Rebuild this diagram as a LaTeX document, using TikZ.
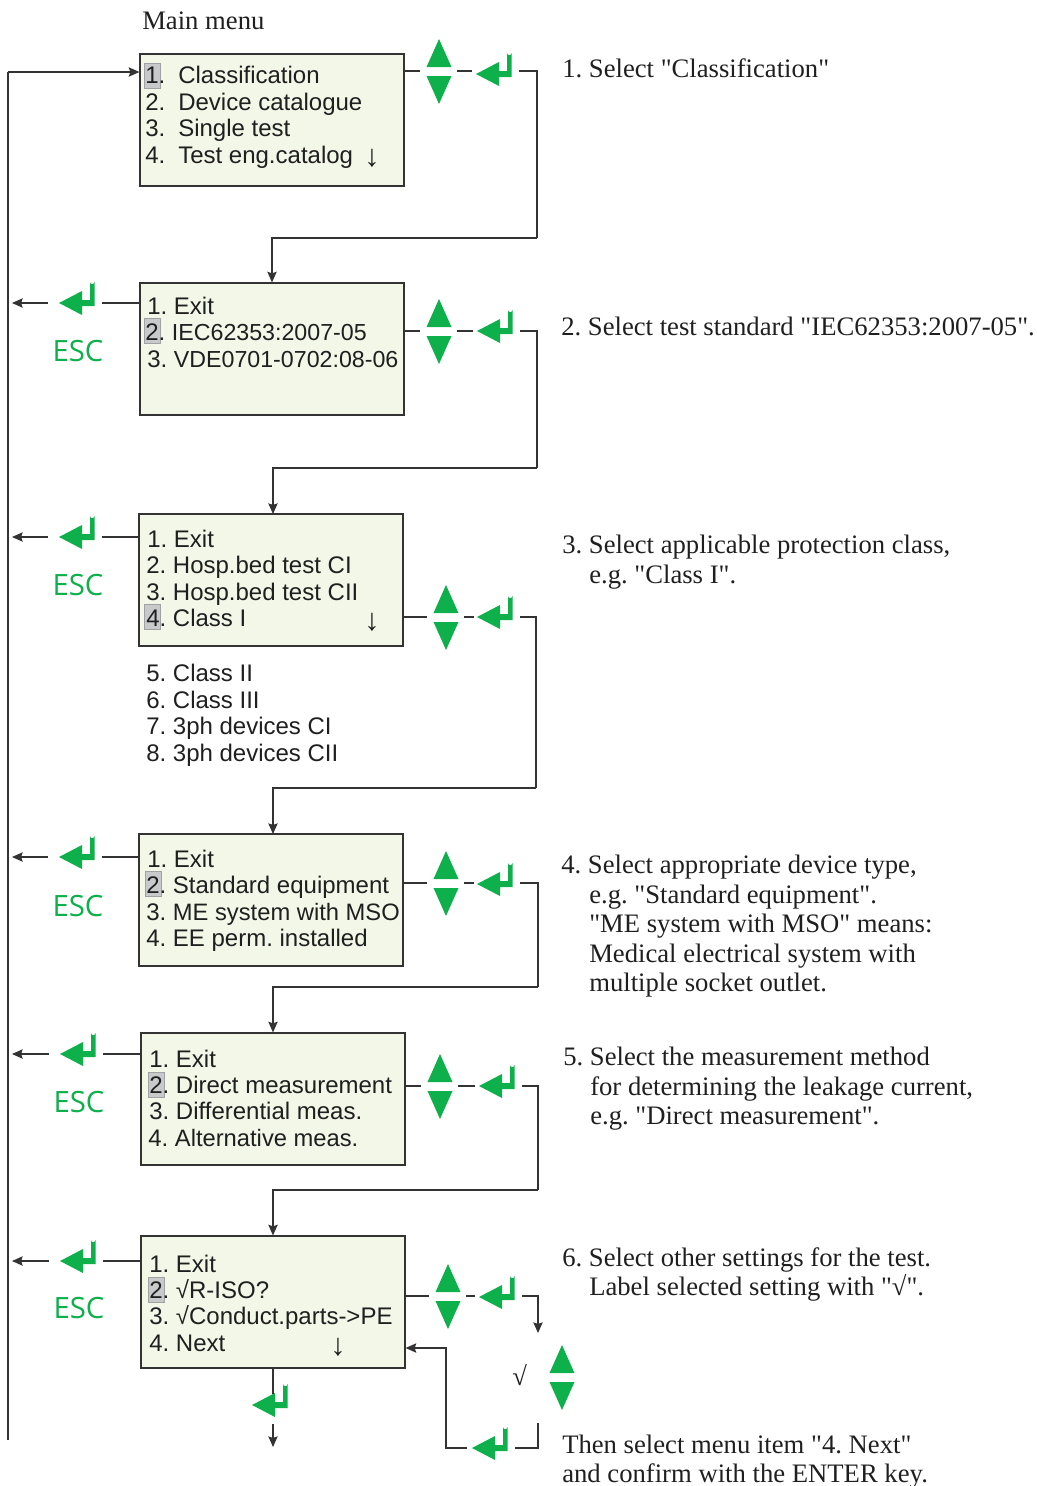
\documentclass[tikz,border=0pt]{standalone}
\usepackage{fontspec}
\setsansfont{Liberation Sans}
\newfontfamily\notefont{Liberation Serif}
\newfontfamily\escfont{Open Sans}
\usetikzlibrary{arrows.meta}
\definecolor{kgreen}{HTML}{0DB04B}
\definecolor{kfill}{HTML}{F3F7E8}
\definecolor{kline}{HTML}{333333}
\definecolor{khl}{HTML}{C8C9CB}
\tikzset{
  menu/.style={draw=kline,fill=kfill,line width=.9pt,minimum width=198pt,minimum height=99pt,inner sep=0pt},
  conn/.style={draw=kline,line width=.8pt},
  arr/.style={conn,-{Stealth[length=8pt,width=7pt,inset=1.2pt]}},
  rowtext/.style={anchor=base west,inner sep=0pt,font=\sffamily\fontsize{18}{20}\selectfont,text=black!88},
  downmark/.style={anchor=base west,inner sep=0pt,font=\sffamily\fontsize{23}{24}\selectfont,text=black!88},
  note/.style={anchor=base west,inner sep=0pt,font=\notefont\fontsize{20}{22}\selectfont,text=black!88},
  esc/.style={inner sep=0pt,font=\escfont\fontsize{22}{24}\selectfont,text=kgreen},
  hl/.style={fill=khl,draw=khl!80!black,line width=.3pt}
}
\newcommand{\keypair}[3]{% name, x, y
  \fill[kgreen] (#2-12.5,#3-4)--(#2+12.5,#3-4)--(#2,#3-32)--cycle;
  \fill[kgreen] (#2-12.5,#3+5)--(#2+12.5,#3+5)--(#2,#3+33)--cycle;
  \coordinate (#1-w) at (#2-19,#3);
  \coordinate (#1-e) at (#2+18,#3);
}
\newcommand{\enterkey}[4]{% name, tip x, y, left gap
  \fill[kgreen] (#2,#3)--(#2+23,#3-12)--(#2+23,#3-3)--(#2+31,#3-3)--(#2+31,#3-21)
     arc[start angle=180,end angle=0,radius=2.25]--(#2+35.5,#3+3)--(#2+23,#3+3)--(#2+23,#3+12)--cycle;
  \coordinate (#1-w) at (#2-#4,#3);
  \coordinate (#1-e) at (#2+43,#3);
}
\newcommand{\mrow}[4]{\node[rowtext] (#1) at (#2,#3) {#4};}
\newcommand{\nrow}[4]{\node[note] (#1) at (#2,#3) {#4};}
\newcommand{\hilite}[2]{\path[hl] (#1,#2) rectangle ++(16,25);}
\newcommand{\tight}{\fontsize{17.4}{20}\selectfont}
\newcommand{\snug}{\fontsize{17.8}{20}\selectfont}
\begin{document}
\frenchspacing
\begin{tikzpicture}[x=.75pt,y=-.75pt]
\useasboundingbox (0,0) rectangle (1037,1486);
% boxes
\node[menu] (b1) at (272,120) {};
\node[menu] (b2) at (272,349) {};
\node[menu] (b3) at (271,580) {};
\node[menu] (b4) at (271,900) {};
\node[menu] (b5) at (273,1099) {};
\node[menu] (b6) at (273,1302) {};
% highlights
\hilite{144}{63}\hilite{144}{318}\hilite{144}{604}\hilite{145}{871}\hilite{148}{1072}\hilite{148}{1277}
% title
\node[note] (title) at (142,29) {Main menu};
% box texts
\mrow{a1}{145}{83}{\makebox[24.75pt][l]{1.}Classification}
\mrow{a2}{145}{110}{\makebox[24.75pt][l]{2.}Device catalogue}
\mrow{a3}{145}{136}{\makebox[24.75pt][l]{3.}Single test}
\mrow{a4}{145}{163}{\makebox[24.75pt][l]{4.}Test eng.catalog}
\node[downmark] (a5) at (364,166) {↓};
\mrow{c1}{147}{314}{1. Exit}
\mrow{c2}{145}{340}{2. {\tight IEC62353:2007-05}}
\mrow{c3}{147}{367}{3. {\tight VDE0701-0702:08-06}}
\mrow{d1}{147}{547}{1. Exit}
\mrow{d2}{146}{573}{2. Hosp.bed test CI}
\mrow{d3}{146}{600}{3. Hosp.bed test CII}
\mrow{d4}{146}{626}{4. Class I}
\node[downmark] (d9) at (364,630) {↓};
\mrow{d5}{146}{681}{5. Class II}
\mrow{d6}{146}{708}{6. Class III}
\mrow{d7}{146}{734}{7. 3ph devices CI}
\mrow{d8}{146}{761}{8. 3ph devices CII}
\mrow{e1}{147}{867}{1. Exit}
\mrow{e2}{146}{893}{2. Standard equipment}
\mrow{e3}{146}{920}{3. {\snug ME system with MSO}}
\mrow{e4}{146}{946}{4. EE perm. installed}
\mrow{f1}{149}{1067}{1. Exit}
\mrow{f2}{149}{1093}{2. Direct measurement}
\mrow{f3}{149}{1119}{3. Differential meas.}
\mrow{f4}{148}{1146}{4. {\snug Alternative meas.}}
\mrow{g1}{149}{1272}{1. Exit}
\mrow{g2}{149}{1298}{2. √R-ISO?}
\mrow{g3}{149}{1324}{3. √Conduct.parts->PE}
\mrow{g4}{149}{1351}{4. Next}
\node[downmark] (g5) at (330,1355) {↓};
% notes
\nrow{n1}{562}{77}{1. Select "Classification"}
\nrow{n2}{561}{335}{2. Select test standard "IEC62353:2007-05".}
\nrow{n3}{562}{553}{3. Select applicable protection class,}
\nrow{n3b}{589}{583}{e.g. "Class I".}
\nrow{n4}{561}{873}{4. Select appropriate device type,}
\nrow{n4b}{589}{903}{e.g. "Standard equipment".}
\nrow{n4c}{589}{932}{"ME system with MSO" means:}
\nrow{n4d}{589}{962}{Medical electrical system with}
\nrow{n4e}{589}{991}{multiple socket outlet.}
\nrow{n5}{563}{1065}{5. Select the measurement method}
\nrow{n5b}{590}{1095}{for determining the leakage current,}
\nrow{n5c}{590}{1124}{e.g. "Direct measurement".}
\nrow{n6}{562}{1266}{6. Select other settings for the test.}
\nrow{n6b}{589}{1295}{Label selected setting with "√".}
\nrow{n7}{562}{1453}{Then select menu item "4. Next"}
\nrow{n7b}{562}{1482}{and confirm with the ENTER key.}
\node[note] (chk) at (512,1385) {√};
% ESC
\node[esc] (esc2) at (78,351) {ESC};
\node[esc] (esc3) at (78,585) {ESC};
\node[esc] (esc4) at (78,906) {ESC};
\node[esc] (esc5) at (79,1102) {ESC};
\node[esc] (esc6) at (79,1308) {ESC};
% keys
\keypair{k1}{439}{71}\enterkey{r1}{476}{74}{4}
\keypair{k2}{439}{331}\enterkey{r2}{477}{331}{4}
\keypair{k3}{446}{617}\enterkey{r3}{477}{617}{3}
\keypair{k4}{446}{883}\enterkey{r4}{477}{884}{3}
\keypair{k5}{440}{1086}\enterkey{r5}{479}{1086}{4}
\keypair{k6}{448}{1296}\enterkey{r6}{479}{1297}{4}
\keypair{k7}{562}{1377}
\enterkey{l2}{59}{303}{11}
\enterkey{l3}{59}{537}{11}
\enterkey{l4}{59}{857}{11}
\enterkey{l5}{60}{1054}{11}
\enterkey{l6}{60}{1261}{11}
\enterkey{bot}{252}{1405}{0}
\enterkey{back}{472}{1448}{5}
% named bends
\coordinate (top) at (8,72);
\coordinate (foot) at (8,1440);
\coordinate (t1) at (537,238);
\coordinate (t2) at (537,468);
\coordinate (t3) at (536,788);
\coordinate (t4) at (538,987);
\coordinate (t5) at (538,1190);
\coordinate (i3) at (273,514);
\coordinate (i4) at (273,834);
\coordinate (b6e) at (538,1333);
\coordinate (t7) at (538,1423);
\coordinate (t7b) at (538,1448);
\coordinate (b6in) at (446,1348);
\coordinate (s1) at (273,1394);
\coordinate (s2) at (273,1424);
\coordinate (s3) at (273,1447);
\coordinate (e2) at (12,303);
\coordinate (e3) at (12,537);
\coordinate (e4) at (12,857);
\coordinate (e5) at (12,1054);
\coordinate (e6) at (12,1261);
% left bus
\draw[conn] (foot) -- (top);
\draw[arr] (top) -- (b1.west |- top);
% left connectors
\foreach \n in {2,3,4,5,6}{
  \draw[conn] (b\n.west |- l\n-e) -- (l\n-e);
  \draw[arr] (l\n-w) -- (e\n);
}
% right connectors
\draw[conn] (b1.east |- k1-w) -- (k1-w);
\draw[conn] (k1-e) -- (r1-w |- k1-e);
\draw[conn] (r1-e |- k1-e) -- ++(18,0) |- (t1);
\draw[arr] (t1) -| (b2.north);
\draw[conn] (b2.east |- k2-w) -- (k2-w);
\draw[conn] (k2-e) -- (r2-w);
\draw[conn] (r2-e) -| (t2);
\draw[arr] (t2) -| (i3);
\draw[conn] (b3.east |- k3-w) -- (k3-w);
\draw[conn] (k3-e) -- (r3-w);
\draw[conn] (r3-e) -| (t3);
\draw[arr] (t3) -| (i4);
\draw[conn] (b4.east |- k4-w) -- (k4-w);
\draw[conn] (k4-e) -- (r4-w |- k4-e);
\draw[conn] (r4-e |- k4-e) -| (t4);
\draw[arr] (t4) -| (b5.north);
\draw[conn] (b5.east |- k5-w) -- (k5-w);
\draw[conn] (k5-e) -- (r5-w);
\draw[conn] (r5-e) -| (t5);
\draw[arr] (t5) -| (b6.north);
\draw[conn] (b6.east |- k6-w) -- (k6-w);
\draw[conn] (k6-e) -- (r6-w |- k6-e);
\draw[arr] (r6-e |- k6-e) -| (b6e);
\draw[conn] (t7) -- (t7b) -- (back-e);
\draw[arr] (back-w) -| (b6in) -- (b6.east |- b6in);
\draw[conn] (b6.south) -- (s1);
\draw[arr] (s2) -- (s3);
\end{tikzpicture}
\end{document}
